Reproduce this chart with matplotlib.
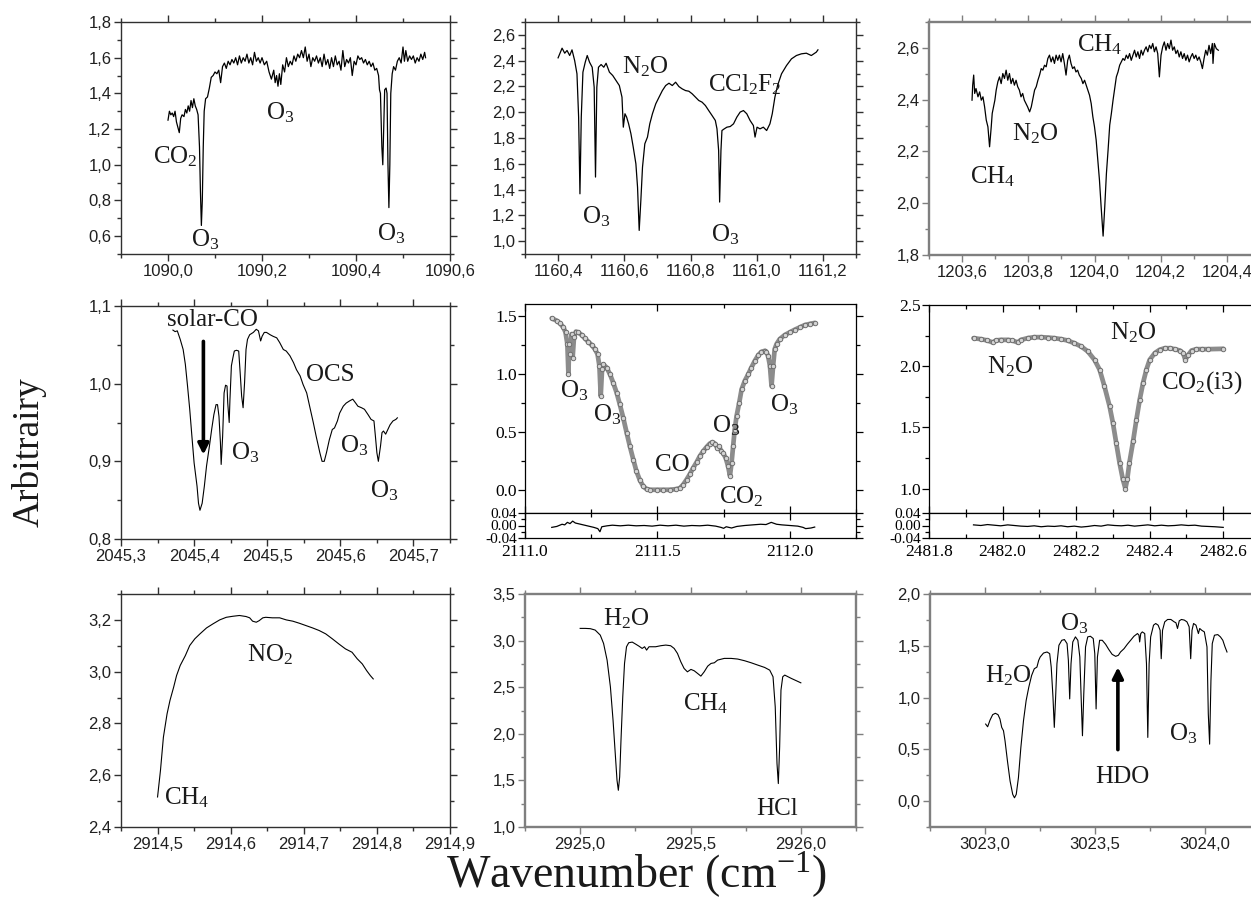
#!/usr/bin/env python3
"""Nine-panel atmospheric absorption spectra (micro-windows) figure."""

import matplotlib

matplotlib.use("Agg")

import matplotlib.pyplot as plt
from matplotlib.ticker import FuncFormatter, MultipleLocator

W, H = 1251, 913

# ---- 1090 cm-1 window (O3 / CO2) ----
WN_1090 = [
    1090.000, 1090.003, 1090.006, 1090.009, 1090.012, 1090.015, 1090.018, 1090.022, 1090.024, 1090.027,
    1090.030, 1090.034, 1090.037, 1090.040, 1090.043, 1090.046, 1090.049, 1090.052, 1090.055, 1090.058,
    1090.061, 1090.064, 1090.067, 1090.069, 1090.071, 1090.073, 1090.075, 1090.077, 1090.080, 1090.084,
    1090.088, 1090.092, 1090.096, 1090.100, 1090.104, 1090.108, 1090.112, 1090.116, 1090.120, 1090.124,
    1090.128, 1090.132, 1090.136, 1090.140, 1090.144, 1090.148, 1090.152, 1090.156, 1090.160, 1090.164,
    1090.168, 1090.172, 1090.176, 1090.180, 1090.184, 1090.188, 1090.192, 1090.196, 1090.200, 1090.205,
    1090.210, 1090.215, 1090.220, 1090.225, 1090.228, 1090.231, 1090.234, 1090.237, 1090.240, 1090.244,
    1090.248, 1090.252, 1090.256, 1090.260, 1090.264, 1090.268, 1090.272, 1090.276, 1090.280, 1090.284,
    1090.288, 1090.292, 1090.296, 1090.300, 1090.304, 1090.308, 1090.312, 1090.316, 1090.320, 1090.324,
    1090.328, 1090.332, 1090.336, 1090.340, 1090.344, 1090.348, 1090.352, 1090.356, 1090.360, 1090.364,
    1090.368, 1090.372, 1090.376, 1090.380, 1090.384, 1090.388, 1090.392, 1090.396, 1090.400, 1090.404,
    1090.408, 1090.412, 1090.416, 1090.420, 1090.424, 1090.428, 1090.432, 1090.436, 1090.440, 1090.444,
    1090.448, 1090.450, 1090.452, 1090.455, 1090.457, 1090.459, 1090.461, 1090.464, 1090.466, 1090.468,
    1090.470, 1090.472, 1090.474, 1090.477, 1090.480, 1090.484, 1090.488, 1090.492, 1090.496, 1090.500,
    1090.503, 1090.506, 1090.510, 1090.514, 1090.518, 1090.522, 1090.526, 1090.530, 1090.534, 1090.538,
    1090.542, 1090.546, 1090.548,
]
SIG_1090 = [
    1.25, 1.30, 1.28, 1.29, 1.27, 1.30, 1.24, 1.20, 1.18, 1.26,
    1.28, 1.27, 1.31, 1.29, 1.33, 1.30, 1.36, 1.32, 1.37, 1.33,
    1.31, 1.28, 1.10, 0.85, 0.66, 0.80, 1.10, 1.30, 1.37, 1.38,
    1.43, 1.49, 1.50, 1.52, 1.51, 1.53, 1.46, 1.55, 1.57, 1.54,
    1.58, 1.56, 1.59, 1.57, 1.60, 1.56, 1.61, 1.57, 1.60, 1.58,
    1.62, 1.57, 1.60, 1.56, 1.63, 1.58, 1.60, 1.57, 1.60, 1.56,
    1.58, 1.52, 1.48, 1.53, 1.46, 1.50, 1.44, 1.51, 1.45, 1.56,
    1.52, 1.60, 1.55, 1.58, 1.56, 1.61, 1.58, 1.62, 1.60, 1.64,
    1.60, 1.66, 1.58, 1.62, 1.55, 1.60, 1.58, 1.61, 1.57, 1.60,
    1.55, 1.62, 1.56, 1.59, 1.54, 1.60, 1.55, 1.61, 1.56, 1.58,
    1.53, 1.64, 1.55, 1.59, 1.57, 1.60, 1.50, 1.58, 1.56, 1.61,
    1.59, 1.60, 1.57, 1.59, 1.56, 1.58, 1.55, 1.57, 1.53, 1.54,
    1.50, 1.42, 1.40, 1.10, 1.00, 1.20, 1.42, 1.43, 1.40, 1.00,
    0.76, 1.00, 1.40, 1.51, 1.55, 1.53, 1.58, 1.60, 1.57, 1.66,
    1.58, 1.64, 1.58, 1.61, 1.59, 1.61, 1.57, 1.60, 1.58, 1.62,
    1.59, 1.63, 1.60,
]

# ---- 1160 cm-1 window (O3 / N2O / CCl2F2) ----
WN_1160 = [
    1160.400, 1160.405, 1160.412, 1160.420, 1160.427, 1160.435, 1160.442, 1160.450, 1160.457, 1160.462,
    1160.466, 1160.470, 1160.475, 1160.482, 1160.488, 1160.495, 1160.503, 1160.509, 1160.513, 1160.517,
    1160.522, 1160.530, 1160.538, 1160.545, 1160.555, 1160.565, 1160.575, 1160.585, 1160.593, 1160.597,
    1160.602, 1160.607, 1160.613, 1160.620, 1160.627, 1160.635, 1160.640, 1160.645, 1160.650, 1160.655,
    1160.662, 1160.670, 1160.677, 1160.685, 1160.695, 1160.705, 1160.715, 1160.725, 1160.735, 1160.745,
    1160.755, 1160.765, 1160.775, 1160.785, 1160.795, 1160.805, 1160.815, 1160.825, 1160.835, 1160.845,
    1160.855, 1160.865, 1160.875, 1160.880, 1160.885, 1160.888, 1160.892, 1160.895, 1160.902, 1160.910,
    1160.920, 1160.930, 1160.940, 1160.950, 1160.960, 1160.970, 1160.980, 1160.990, 1160.995, 1161.001,
    1161.010, 1161.020, 1161.030, 1161.040, 1161.047, 1161.055, 1161.063, 1161.075, 1161.090, 1161.105,
    1161.120, 1161.135, 1161.150, 1161.165, 1161.180, 1161.185,
]
SIG_1160 = [
    2.422, 2.453, 2.497, 2.458, 2.479, 2.440, 2.484, 2.401, 2.298, 1.962,
    1.367, 1.962, 2.311, 2.388, 2.440, 2.388, 2.349, 2.194, 1.497, 2.194,
    2.349, 2.370, 2.349, 2.380, 2.311, 2.285, 2.246, 2.207, 2.117, 1.884,
    1.988, 1.962, 1.910, 1.833, 1.729, 1.600, 1.419, 1.083, 1.316, 1.574,
    1.755, 1.807, 1.910, 1.988, 2.065, 2.117, 2.168, 2.207, 2.225, 2.207,
    2.233, 2.199, 2.181, 2.168, 2.163, 2.143, 2.117, 2.091, 2.078, 2.052,
    2.013, 1.975, 1.936, 1.871, 1.703, 1.303, 1.703, 1.858, 1.871, 1.884,
    1.889, 1.910, 1.962, 2.001, 2.013, 1.988, 1.936, 1.897, 1.807, 1.884,
    1.871, 1.884, 1.858, 1.910, 1.988, 2.117, 2.207, 2.298, 2.362, 2.414,
    2.440, 2.453, 2.458, 2.440, 2.466, 2.484,
]

# ---- 1204 cm-1 window (CH4 / N2O) ----
WN_1204 = [
    1203.630, 1203.632, 1203.635, 1203.638, 1203.642, 1203.648, 1203.653, 1203.658, 1203.663, 1203.668,
    1203.673, 1203.678, 1203.683, 1203.688, 1203.691, 1203.695, 1203.699, 1203.703, 1203.708, 1203.713,
    1203.718, 1203.723, 1203.728, 1203.733, 1203.738, 1203.743, 1203.748, 1203.753, 1203.758, 1203.763,
    1203.768, 1203.773, 1203.778, 1203.783, 1203.788, 1203.793, 1203.798, 1203.804, 1203.809, 1203.814,
    1203.819, 1203.824, 1203.829, 1203.834, 1203.839, 1203.844, 1203.849, 1203.854, 1203.859, 1203.864,
    1203.869, 1203.874, 1203.879, 1203.884, 1203.889, 1203.894, 1203.899, 1203.904, 1203.909, 1203.914,
    1203.919, 1203.924, 1203.929, 1203.934, 1203.939, 1203.944, 1203.949, 1203.954, 1203.960, 1203.965,
    1203.970, 1203.975, 1203.980, 1203.985, 1203.990, 1203.995, 1204.000, 1204.005, 1204.010, 1204.015,
    1204.020, 1204.026, 1204.031, 1204.036, 1204.041, 1204.046, 1204.051, 1204.056, 1204.061, 1204.066,
    1204.071, 1204.076, 1204.081, 1204.086, 1204.091, 1204.096, 1204.101, 1204.106, 1204.111, 1204.116,
    1204.121, 1204.126, 1204.131, 1204.136, 1204.141, 1204.146, 1204.151, 1204.156, 1204.161, 1204.166,
    1204.171, 1204.176, 1204.181, 1204.186, 1204.191, 1204.196, 1204.201, 1204.206, 1204.211, 1204.216,
    1204.221, 1204.226, 1204.231, 1204.236, 1204.241, 1204.246, 1204.251, 1204.256, 1204.261, 1204.266,
    1204.271, 1204.276, 1204.281, 1204.286, 1204.291, 1204.296, 1204.301, 1204.306, 1204.311, 1204.316,
    1204.321, 1204.326, 1204.331, 1204.336, 1204.341, 1204.346, 1204.351, 1204.356, 1204.358, 1204.362,
    1204.368, 1204.374,
]
SIG_1204 = [
    2.398, 2.456, 2.495, 2.424, 2.443, 2.411, 2.430, 2.398, 2.411, 2.372,
    2.321, 2.295, 2.218, 2.295, 2.347, 2.372, 2.398, 2.437, 2.469, 2.488,
    2.462, 2.501, 2.482, 2.514, 2.475, 2.501, 2.462, 2.482, 2.456, 2.475,
    2.450, 2.437, 2.411, 2.424, 2.398, 2.385, 2.372, 2.353, 2.372, 2.404,
    2.437, 2.450, 2.475, 2.495, 2.520, 2.514, 2.533, 2.527, 2.559, 2.572,
    2.546, 2.565, 2.540, 2.572, 2.552, 2.572, 2.546, 2.578, 2.540, 2.495,
    2.552, 2.572, 2.540, 2.520, 2.527, 2.507, 2.514, 2.495, 2.482, 2.462,
    2.475, 2.456, 2.437, 2.417, 2.385, 2.334, 2.295, 2.244, 2.167, 2.089,
    1.987, 1.873, 1.987, 2.115, 2.205, 2.302, 2.347, 2.398, 2.443, 2.488,
    2.507, 2.533, 2.546, 2.559, 2.552, 2.572, 2.559, 2.578, 2.552, 2.572,
    2.591, 2.565, 2.585, 2.559, 2.591, 2.572, 2.591, 2.604, 2.585, 2.610,
    2.597, 2.617, 2.585, 2.604, 2.578, 2.488, 2.572, 2.604, 2.623, 2.591,
    2.617, 2.597, 2.630, 2.591, 2.604, 2.578, 2.591, 2.565, 2.585, 2.559,
    2.578, 2.552, 2.572, 2.546, 2.565, 2.578, 2.559, 2.572, 2.552, 2.565,
    2.546, 2.520, 2.559, 2.591, 2.572, 2.610, 2.578, 2.617, 2.540, 2.617,
    2.597, 2.591,
]

# ---- 2045 cm-1 window (solar CO / O3 / OCS) ----
WN_2045 = [
    2045.371, 2045.374, 2045.377, 2045.381, 2045.385, 2045.388, 2045.391, 2045.394, 2045.397, 2045.400,
    2045.404, 2045.406, 2045.408, 2045.411, 2045.414, 2045.417, 2045.421, 2045.424, 2045.427, 2045.430,
    2045.432, 2045.434, 2045.436, 2045.437, 2045.439, 2045.441, 2045.443, 2045.445, 2045.446, 2045.448,
    2045.449, 2045.451, 2045.453, 2045.455, 2045.458, 2045.461, 2045.463, 2045.465, 2045.467, 2045.469,
    2045.471, 2045.473, 2045.476, 2045.481, 2045.485, 2045.488, 2045.491, 2045.493, 2045.496, 2045.499,
    2045.504, 2045.508, 2045.513, 2045.517, 2045.522, 2045.526, 2045.531, 2045.536, 2045.540, 2045.545,
    2045.549, 2045.554, 2045.558, 2045.563, 2045.567, 2045.572, 2045.575, 2045.578, 2045.581, 2045.585,
    2045.589, 2045.592, 2045.596, 2045.599, 2045.604, 2045.608, 2045.613, 2045.617, 2045.621, 2045.624,
    2045.629, 2045.633, 2045.638, 2045.642, 2045.646, 2045.648, 2045.650, 2045.652, 2045.655, 2045.657,
    2045.659, 2045.662, 2045.665, 2045.668, 2045.672, 2045.676, 2045.678,
]
SIG_2045 = [
    1.069, 1.067, 1.068, 1.057, 1.044, 1.025, 0.997, 0.967, 0.932, 0.898,
    0.868, 0.846, 0.837, 0.846, 0.868, 0.894, 0.920, 0.941, 0.960, 0.973,
    0.973, 0.958, 0.924, 0.896, 0.932, 0.988, 0.998, 0.997, 0.975, 0.950,
    0.979, 1.023, 1.033, 1.042, 1.043, 1.042, 1.014, 0.984, 0.969, 1.001,
    1.044, 1.057, 1.063, 1.066, 1.070, 1.068, 1.055, 1.061, 1.066, 1.066,
    1.063, 1.061, 1.059, 1.053, 1.044, 1.042, 1.036, 1.027, 1.018, 1.010,
    0.999, 0.988, 0.971, 0.950, 0.932, 0.911, 0.900, 0.900, 0.911, 0.928,
    0.941, 0.943, 0.952, 0.962, 0.971, 0.975, 0.978, 0.980, 0.975, 0.971,
    0.969, 0.967, 0.960, 0.954, 0.952, 0.932, 0.911, 0.900, 0.920, 0.937,
    0.939, 0.935, 0.941, 0.947, 0.952, 0.954, 0.956,
]

# ---- 2111 cm-1 window (CO) with fit residual ----
WN_2111 = [
    2111.101, 2111.119, 2111.132, 2111.145, 2111.153, 2111.160, 2111.164, 2111.167, 2111.171, 2111.176,
    2111.180, 2111.185, 2111.192, 2111.201, 2111.214, 2111.226, 2111.239, 2111.252, 2111.264, 2111.274,
    2111.281, 2111.286, 2111.291, 2111.296, 2111.308, 2111.321, 2111.333, 2111.346, 2111.358, 2111.371,
    2111.384, 2111.396, 2111.409, 2111.421, 2111.434, 2111.447, 2111.459, 2111.472, 2111.497, 2111.522,
    2111.547, 2111.572, 2111.585, 2111.597, 2111.610, 2111.623, 2111.635, 2111.648, 2111.660, 2111.673,
    2111.686, 2111.698, 2111.708, 2111.717, 2111.726, 2111.733, 2111.741, 2111.748, 2111.758, 2111.767,
    2111.774, 2111.780, 2111.786, 2111.792, 2111.799, 2111.809, 2111.818, 2111.830, 2111.843, 2111.855,
    2111.868, 2111.881, 2111.893, 2111.906, 2111.912, 2111.918, 2111.925, 2111.931, 2111.937, 2111.943,
    2111.950, 2111.962, 2111.981, 2112.000, 2112.019, 2112.038, 2112.057, 2112.075, 2112.094,
]
SIG_2111 = [
    1.477, 1.457, 1.434, 1.399, 1.356, 1.255, 0.995, 1.255, 1.168, 1.341,
    1.139, 1.313, 1.362, 1.356, 1.333, 1.304, 1.275, 1.246, 1.212, 1.168,
    1.067, 0.808, 1.039, 1.079, 1.053, 0.995, 0.923, 0.837, 0.736, 0.620,
    0.490, 0.375, 0.260, 0.159, 0.081, 0.029, 0.006, 0.000, 0.000, 0.000,
    0.000, 0.006, 0.015, 0.043, 0.087, 0.136, 0.188, 0.237, 0.289, 0.332,
    0.369, 0.398, 0.410, 0.398, 0.361, 0.375, 0.332, 0.317, 0.274, 0.202,
    0.121, 0.231, 0.375, 0.519, 0.635, 0.750, 0.865, 0.938, 0.995, 1.053,
    1.111, 1.160, 1.188, 1.197, 1.183, 1.154, 1.067, 0.894, 1.067, 1.212,
    1.255, 1.298, 1.333, 1.356, 1.379, 1.399, 1.419, 1.428, 1.437,
]
RES_WN_2111 = [
    2111.101, 2111.120, 2111.140, 2111.150, 2111.160, 2111.170, 2111.180, 2111.190, 2111.200, 2111.220,
    2111.240, 2111.260, 2111.275, 2111.283, 2111.290, 2111.310, 2111.330, 2111.360, 2111.390, 2111.420,
    2111.450, 2111.480, 2111.510, 2111.540, 2111.570, 2111.600, 2111.630, 2111.660, 2111.690, 2111.720,
    2111.740, 2111.750, 2111.760, 2111.780, 2111.800, 2111.830, 2111.860, 2111.890, 2111.910, 2111.930,
    2111.950, 2111.970, 2112.000, 2112.030, 2112.050, 2112.060, 2112.080, 2112.094,
]
RES_2111 = [
    -0.006, -0.003, 0.004, 0.002, 0.010, 0.006, 0.014, 0.008, 0.006, 0.002,
    -0.002, -0.006, -0.010, -0.020, -0.004, -0.001, 0.001, -0.001, 0.001, -0.001,
    0.000, -0.002, 0.001, -0.001, 0.001, -0.002, 0.000, -0.001, 0.001, -0.002,
    -0.006, -0.009, -0.004, -0.008, -0.003, 0.000, 0.002, 0.004, 0.003, 0.010,
    0.004, 0.002, 0.000, -0.002, -0.006, -0.010, -0.008, -0.005,
]

# ---- 2482 cm-1 window (N2O / CO2 isotopologue) with fit residual ----
WN_2482 = [
    2481.921, 2481.941, 2481.959, 2481.973, 2481.982, 2481.995, 2482.014, 2482.027, 2482.041, 2482.050,
    2482.068, 2482.086, 2482.105, 2482.123, 2482.141, 2482.159, 2482.177, 2482.195, 2482.214, 2482.232,
    2482.250, 2482.264, 2482.277, 2482.291, 2482.300, 2482.309, 2482.318, 2482.327, 2482.334, 2482.339,
    2482.345, 2482.355, 2482.364, 2482.373, 2482.382, 2482.391, 2482.400, 2482.414, 2482.427, 2482.441,
    2482.455, 2482.468, 2482.482, 2482.491, 2482.497, 2482.505, 2482.514, 2482.527, 2482.541, 2482.559,
    2482.600,
]
SIG_2482 = [
    2.229, 2.221, 2.210, 2.194, 2.210, 2.215, 2.215, 2.210, 2.194, 2.215,
    2.229, 2.237, 2.237, 2.234, 2.229, 2.221, 2.210, 2.188, 2.161, 2.120,
    2.052, 1.971, 1.836, 1.673, 1.537, 1.374, 1.212, 1.076, 1.000, 1.076,
    1.212, 1.388, 1.564, 1.727, 1.863, 1.971, 2.052, 2.107, 2.134, 2.147,
    2.147, 2.139, 2.128, 2.107, 2.052, 2.093, 2.128, 2.139, 2.139, 2.139,
    2.142,
]
RES_WN_2482 = [
    2481.921, 2481.941, 2481.959, 2481.977, 2481.995, 2482.014, 2482.032, 2482.050, 2482.068, 2482.086,
    2482.105, 2482.123, 2482.141, 2482.159, 2482.177, 2482.195, 2482.214, 2482.232, 2482.250, 2482.268,
    2482.286, 2482.305, 2482.323, 2482.341, 2482.359, 2482.377, 2482.395, 2482.414, 2482.432, 2482.450,
    2482.468, 2482.486, 2482.505, 2482.523, 2482.541, 2482.559, 2482.577, 2482.600,
]
RES_2482 = [
    0.002, 0.000, 0.003, 0.001, -0.001, 0.002, 0.000, -0.002, -0.003, -0.001,
    -0.004, -0.002, -0.003, -0.001, -0.004, -0.002, -0.005, -0.003, 0.000, -0.002,
    0.002, 0.000, -0.001, 0.001, -0.002, 0.000, 0.002, -0.001, 0.001, -0.001,
    0.000, 0.002, 0.000, 0.001, -0.002, -0.003, -0.004, -0.006,
]

# ---- 2914 cm-1 window (CH4 / NO2) ----
WN_2914 = [
    2914.500, 2914.504, 2914.508, 2914.513, 2914.517, 2914.522, 2914.526, 2914.531, 2914.538, 2914.544,
    2914.551, 2914.558, 2914.567, 2914.576, 2914.585, 2914.594, 2914.603, 2914.612, 2914.621, 2914.626,
    2914.630, 2914.635, 2914.639, 2914.644, 2914.648, 2914.657, 2914.667, 2914.676, 2914.685, 2914.694,
    2914.703, 2914.712, 2914.721, 2914.730, 2914.739, 2914.748, 2914.757, 2914.766, 2914.773, 2914.780,
    2914.786, 2914.791, 2914.795,
]
SIG_2914 = [
    2.516, 2.619, 2.747, 2.837, 2.889, 2.940, 2.985, 3.024, 3.062, 3.101,
    3.127, 3.146, 3.169, 3.185, 3.200, 3.210, 3.214, 3.217, 3.213, 3.208,
    3.195, 3.191, 3.197, 3.208, 3.210, 3.208, 3.208, 3.200, 3.195, 3.187,
    3.178, 3.169, 3.159, 3.146, 3.127, 3.107, 3.088, 3.075, 3.050, 3.030,
    3.004, 2.985, 2.972,
]

# ---- 2925 cm-1 window (H2O / CH4 / HCl) ----
WN_2925 = [
    2925.000, 2925.023, 2925.046, 2925.068, 2925.091, 2925.106, 2925.122, 2925.137, 2925.149, 2925.160,
    2925.167, 2925.173, 2925.179, 2925.185, 2925.193, 2925.201, 2925.210, 2925.220, 2925.236, 2925.251,
    2925.266, 2925.281, 2925.292, 2925.301, 2925.312, 2925.327, 2925.342, 2925.365, 2925.388, 2925.410,
    2925.426, 2925.441, 2925.456, 2925.471, 2925.486, 2925.502, 2925.517, 2925.532, 2925.547, 2925.562,
    2925.578, 2925.593, 2925.608, 2925.623, 2925.653, 2925.684, 2925.714, 2925.745, 2925.775, 2925.805,
    2925.836, 2925.859, 2925.874, 2925.884, 2925.892, 2925.898, 2925.904, 2925.910, 2925.918, 2925.927,
    2925.942, 2925.957, 2925.980, 2926.000,
]
SIG_2925 = [
    3.131, 3.131, 3.128, 3.113, 3.059, 2.970, 2.791, 2.504, 2.146, 1.752,
    1.501, 1.394, 1.537, 1.931, 2.397, 2.755, 2.934, 2.977, 2.984, 2.963,
    2.941, 2.916, 2.934, 2.898, 2.934, 2.934, 2.934, 2.945, 2.952, 2.945,
    2.916, 2.862, 2.773, 2.701, 2.665, 2.691, 2.676, 2.648, 2.619, 2.665,
    2.726, 2.755, 2.762, 2.791, 2.809, 2.809, 2.802, 2.784, 2.762, 2.737,
    2.712, 2.683, 2.612, 2.289, 1.681, 1.466, 1.860, 2.469, 2.612, 2.630,
    2.612, 2.594, 2.569, 2.547,
]

# ---- 3023 cm-1 window (H2O / O3 / HDO) ----
WN_3023 = [
    3023.003, 3023.012, 3023.023, 3023.035, 3023.047, 3023.059, 3023.068, 3023.076, 3023.084, 3023.091,
    3023.102, 3023.114, 3023.126, 3023.134, 3023.142, 3023.152, 3023.163, 3023.175, 3023.187, 3023.199,
    3023.212, 3023.224, 3023.236, 3023.244, 3023.251, 3023.266, 3023.282, 3023.294, 3023.301, 3023.309,
    3023.315, 3023.321, 3023.327, 3023.336, 3023.349, 3023.361, 3023.373, 3023.379, 3023.385, 3023.391,
    3023.399, 3023.411, 3023.422, 3023.431, 3023.437, 3023.443, 3023.449, 3023.457, 3023.467, 3023.479,
    3023.492, 3023.499, 3023.505, 3023.511, 3023.521, 3023.533, 3023.548, 3023.563, 3023.578, 3023.594,
    3023.606, 3023.616, 3023.632, 3023.647, 3023.662, 3023.677, 3023.693, 3023.700, 3023.703, 3023.708,
    3023.715, 3023.726, 3023.734, 3023.740, 3023.746, 3023.753, 3023.766, 3023.776, 3023.787, 3023.796,
    3023.801, 3023.807, 3023.817, 3023.830, 3023.845, 3023.860, 3023.868, 3023.875, 3023.883, 3023.893,
    3023.906, 3023.918, 3023.928, 3023.935, 3023.941, 3023.948, 3023.959, 3023.970, 3023.976, 3023.985,
    3023.997, 3024.009, 3024.015, 3024.021, 3024.027, 3024.033, 3024.043, 3024.058, 3024.070, 3024.081,
    3024.091, 3024.100,
]
SIG_3023 = [
    0.744, 0.718, 0.783, 0.835, 0.848, 0.835, 0.793, 0.712, 0.680, 0.583,
    0.388, 0.194, 0.065, 0.032, 0.065, 0.227, 0.518, 0.777, 0.971, 1.100,
    1.214, 1.278, 1.294, 1.359, 1.392, 1.430, 1.440, 1.424, 1.294, 1.003,
    0.712, 1.003, 1.327, 1.505, 1.553, 1.560, 1.521, 1.359, 0.987, 1.327,
    1.537, 1.586, 1.553, 1.392, 1.003, 0.631, 1.036, 1.489, 1.586, 1.592,
    1.570, 1.424, 0.890, 1.392, 1.553, 1.553, 1.515, 1.463, 1.417, 1.398,
    1.408, 1.440, 1.472, 1.515, 1.553, 1.592, 1.618, 1.602, 1.537, 1.618,
    1.634, 1.618, 1.327, 0.615, 1.327, 1.586, 1.699, 1.715, 1.699, 1.650,
    1.375, 1.650, 1.731, 1.754, 1.754, 1.731, 1.722, 1.667, 1.741, 1.754,
    1.748, 1.731, 1.683, 1.375, 1.650, 1.715, 1.699, 1.618, 1.667, 1.650,
    1.634, 1.489, 0.841, 0.550, 1.165, 1.521, 1.602, 1.608, 1.586, 1.553,
    1.489, 1.440,
]

SERIF = "Liberation Serif"
SANS = "Liberation Sans"

plt.rcParams.update(
    {
        "font.family": SANS,
        "mathtext.fontset": "custom",
        "mathtext.rm": SERIF,
        "mathtext.it": SERIF + ":italic",
        "mathtext.bf": SERIF + ":bold",
        "axes.linewidth": 1.0,
    }
)


def add_panel(fig, left, top, right, bottom):
    return fig.add_axes([left / W, 1 - bottom / H, (right - left) / W, (bottom - top) / H])


def number_format(decimals, sep):
    def fmt(value, _pos):
        if abs(value) < 1e-9:
            value = 0.0
        return f"{value:.{decimals}f}".replace(".", sep)

    return FuncFormatter(fmt)


def set_ticks(ax, xlim, ylim, xmaj, xmin, ymaj, ymin):
    ax.set_xlim(*xlim)
    ax.set_ylim(*ylim)
    ax.xaxis.set_major_locator(MultipleLocator(xmaj))
    ax.xaxis.set_minor_locator(MultipleLocator(xmin))
    ax.yaxis.set_major_locator(MultipleLocator(ymaj))
    ax.yaxis.set_minor_locator(MultipleLocator(ymin))


def style_origin(ax, xlim, ylim, xmaj, xmin, ymaj, ymin, gray=False):
    set_ticks(ax, xlim, ylim, xmaj, xmin, ymaj, ymin)
    ax.xaxis.set_major_formatter(number_format(1, ","))
    ax.yaxis.set_major_formatter(number_format(1, ","))
    color = "#7f7f7f" if gray else "#303030"
    width = 1.7 if gray else 1.0
    for spine in ax.spines.values():
        spine.set_color(color)
        spine.set_linewidth(width)
    ax.tick_params(which="both", direction="out", top=True, right=True, color=color,
                   width=1.0, labelsize=12, labelcolor="#202020", pad=2)
    ax.tick_params(which="major", length=5)
    ax.tick_params(which="minor", length=3)


def style_fit(ax, res, xlim, ylim, xmaj, xmin, ymaj, ymin):
    set_ticks(ax, xlim, ylim, xmaj, xmin, ymaj, ymin)
    ax.yaxis.set_major_formatter(number_format(1, "."))
    ax.tick_params(axis="x", which="both", direction="in", top=True, labelbottom=False)
    ax.tick_params(axis="y", which="both", direction="out", right=True)
    ax.tick_params(which="both", labelfontfamily=SERIF, labelsize=12.5, width=0.9, pad=1)
    ax.tick_params(which="major", length=5)
    ax.tick_params(which="minor", length=3)

    set_ticks(res, xlim, (-0.04, 0.04), xmaj, xmin, 0.04, 0.02)
    res.xaxis.set_major_formatter(number_format(1, "."))
    res.yaxis.set_major_formatter(number_format(2, "."))
    res.tick_params(axis="x", which="both", direction="in", top=True)
    res.tick_params(axis="y", which="both", direction="out", right=True)
    res.tick_params(axis="x", labelfontfamily=SERIF, labelsize=12.5, pad=4)
    res.tick_params(axis="y", labelfontfamily=SERIF, labelsize=11, pad=1)
    res.tick_params(which="major", length=5, width=0.9)
    res.tick_params(which="minor", length=3, width=0.9)
    for a in (ax, res):
        for spine in a.spines.values():
            spine.set_linewidth(0.9)


def draw_fit(ax, x, y):
    ax.plot(x, y, color="#8c8c8c", lw=3.4, solid_joinstyle="round", solid_capstyle="round", zorder=2)
    ax.plot(x, y, "o", ms=3.2, mfc="#d4d4d4", mec="#6e6e6e", mew=0.7, zorder=3)


def label(ax, x, y, text, size=18):
    ax.text(x, y, text, fontsize=size, family=SERIF, ha="left", va="baseline", color="#1a1a1a")


def main():
    fig = plt.figure(figsize=(W / 100, H / 100), dpi=100)
    line = {"color": "black", "lw": 0.9}

    # row 1
    ax = add_panel(fig, 121, 22, 450, 254)
    ax.plot(WN_1090, SIG_1090, **line)
    style_origin(ax, (1089.9, 1090.6), (0.5, 1.8), 0.2, 0.1, 0.2, 0.1)
    label(ax, 1089.968, 1.01, "CO$_2$")
    label(ax, 1090.050, 0.54, "O$_3$")
    label(ax, 1090.208, 1.255, "O$_3$")
    label(ax, 1090.445, 0.575, "O$_3$")

    ax = add_panel(fig, 525, 22, 856, 254)
    ax.plot(WN_1160, SIG_1160, **line)
    style_origin(ax, (1160.3, 1161.3), (0.9, 2.7), 0.2, 0.1, 0.2, 0.1)
    label(ax, 1160.593, 2.30, "N$_2$O")
    label(ax, 1160.853, 2.163, "CCl$_2$F$_2$")
    label(ax, 1160.472, 1.135, "O$_3$")
    label(ax, 1160.863, 1.00, "O$_3$")

    ax = add_panel(fig, 929, 22, 1260, 255)
    ax.plot(WN_1204, SIG_1204, **line)
    style_origin(ax, (1203.5, 1204.5), (1.8, 2.7), 0.2, 0.1, 0.2, 0.1, gray=True)
    label(ax, 1203.947, 2.587, "CH$_4$")
    label(ax, 1203.752, 2.244, "N$_2$O")
    label(ax, 1203.625, 2.077, "CH$_4$")

    # row 2
    ax = add_panel(fig, 121, 306, 450, 539)
    ax.plot(WN_2045, SIG_2045, color="black", lw=0.8)
    style_origin(ax, (2045.3, 2045.75), (0.8, 1.1), 0.1, 0.05, 0.1, 0.05)
    ax.annotate("", xy=(2045.4127, 0.905), xytext=(2045.4127, 1.058),
                arrowprops={"arrowstyle": "-|>", "lw": 2.6, "color": "black", "mutation_scale": 16})
    label(ax, 2045.3627, 1.0742, "solar-CO")
    label(ax, 2045.5536, 1.0033, "OCS")
    label(ax, 2045.4505, 0.9023, "O$_3$")
    label(ax, 2045.600, 0.911, "O$_3$")
    label(ax, 2045.640, 0.853, "O$_3$")

    ax = add_panel(fig, 525, 304, 856, 513)
    res = add_panel(fig, 525, 513, 856, 538)
    draw_fit(ax, WN_2111, SIG_2111)
    res.plot(RES_WN_2111, RES_2111, color="black", lw=0.9)
    style_fit(ax, res, (2111.0, 2112.25), (-0.2, 1.6), 0.5, 0.25, 0.5, 0.25)
    label(ax, 2111.132, 0.793, "O$_3$")
    label(ax, 2111.255, 0.591, "O$_3$")
    label(ax, 2111.490, 0.159, "CO")
    label(ax, 2111.708, 0.490, "O$_3$")
    label(ax, 2111.733, -0.115, "CO$_2$")
    label(ax, 2111.925, 0.678, "O$_3$")

    ax = add_panel(fig, 929, 305, 1260, 513)
    res = add_panel(fig, 929, 513, 1260, 538)
    draw_fit(ax, WN_2482, SIG_2482)
    res.plot(RES_WN_2482, RES_2482, color="black", lw=0.9)
    style_fit(ax, res, (2481.8, 2482.7), (0.8, 2.5), 0.2, 0.1, 0.5, 0.25)
    label(ax, 2482.291, 2.215, "N$_2$O")
    label(ax, 2481.959, 1.944, "N$_2$O")
    label(ax, 2482.430, 1.814, "CO$_2$(i3)")

    # row 3
    ax = add_panel(fig, 121, 594, 450, 827)
    ax.plot(WN_2914, SIG_2914, color="black", lw=0.8)
    style_origin(ax, (2914.45, 2914.9), (2.4, 3.3), 0.1, 0.05, 0.2, 0.1)
    label(ax, 2914.6226, 3.041, "NO$_2$")
    label(ax, 2914.509, 2.487, "CH$_4$")

    ax = add_panel(fig, 525, 594, 856, 827)
    ax.plot(WN_2925, SIG_2925, color="black", lw=0.8)
    style_origin(ax, (2924.75, 2926.25), (1.0, 3.5), 0.5, 0.25, 0.5, 0.25, gray=True)
    label(ax, 2925.103, 3.167, "H$_2$O")
    label(ax, 2925.468, 2.254, "CH$_4$")
    label(ax, 2925.800, 1.125, "HCl")

    ax = add_panel(fig, 930, 594, 1260, 827)
    ax.plot(WN_3023, SIG_3023, color="black", lw=0.8)
    style_origin(ax, (3022.75, 3024.25), (-0.25, 2.0), 0.5, 0.25, 0.5, 0.25, gray=True)
    ax.annotate("", xy=(3023.604, 1.32), xytext=(3023.604, 0.47),
                arrowprops={"arrowstyle": "-|>", "lw": 2.6, "color": "black", "mutation_scale": 16})
    label(ax, 3023.342, 1.650, "O$_3$")
    label(ax, 3023.000, 1.149, "H$_2$O")
    label(ax, 3023.502, 0.178, "HDO")
    label(ax, 3023.837, 0.589, "O$_3$")

    fig.text(29 / W, 1 - 452 / H, "Arbitrairy", rotation=90, fontsize=27, family=SERIF,
             ha="center", va="center", color="#1a1a1a")
    fig.text(636 / W, 1 - 875 / H, "Wavenumber (cm$^{-1}$)", fontsize=33, family=SERIF,
             ha="center", va="center", color="#1a1a1a")

    fig.savefig("out.png", dpi=100)
    plt.close(fig)


if __name__ == "__main__":
    main()
